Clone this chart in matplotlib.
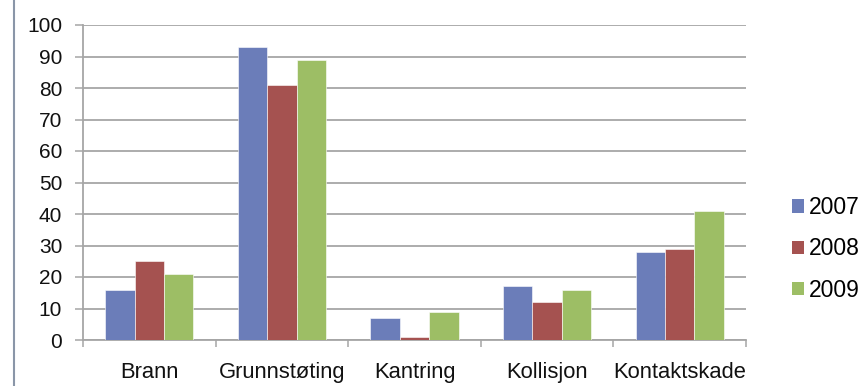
import matplotlib
matplotlib.use("Agg")
import matplotlib.pyplot as plt
import numpy as np
from matplotlib.lines import Line2D
from matplotlib.patches import Patch

categories = ["Brann", "Grunnstøting", "Kantring", "Kollisjon", "Kontaktskade"]
years = ["2007", "2008", "2009"]
v2007 = [16, 93, 7, 17, 28]
v2008 = [25, 81, 1, 12, 29]
v2009 = [21, 89, 9, 16, 41]
yticks = [0, 10, 20, 30, 40, 50, 60, 70, 80, 90, 100]

colors = ["#6B7DB9", "#A55250", "#9DBE65"]
grid_c = "#A6A6A6"
fs_y = 15
fs_x = 15.8
fs_leg = 16.5

plt.rcParams["font.family"] = ["Liberation Sans", "DejaVu Sans"]

fig = plt.figure(figsize=(8.64, 3.86), dpi=100)
ax = fig.add_axes([83 / 864, 46 / 386, 663 / 864, 315 / 386])

x = np.arange(len(categories))
w = 0.222
for i, (vals, c) in enumerate(zip([v2007, v2008, v2009], colors)):
    ax.bar(x + (i - 1) * w, vals, width=w, color=c, edgecolor="white",
           linewidth=0.4, zorder=3)

ax.set_xlim(-0.5, len(categories) - 0.5)
ax.set_ylim(0, 100)
ax.set_yticks(yticks)
ax.yaxis.grid(True, color=grid_c, linewidth=1.3, zorder=0)
ax.tick_params(axis="y", length=6, width=1.1, color=grid_c, pad=9,
               labelsize=fs_y, labelcolor="#111111")

ax.set_xticks(x)
ax.set_xticklabels(categories)
ax.tick_params(axis="x", which="major", length=0, pad=15.5, labelsize=fs_x,
               labelcolor="#111111")
ax.set_xticks(np.arange(-0.5, len(categories)), minor=True)
ax.tick_params(axis="x", which="minor", length=5, width=1.1, color=grid_c)

for side in ["top", "right"]:
    ax.spines[side].set_visible(False)
for side in ["left", "bottom"]:
    ax.spines[side].set_color(grid_c)
    ax.spines[side].set_linewidth(1.3)

handles = [Patch(facecolor=c, edgecolor="none") for c in colors]
fig.legend(handles, years, loc="center left",
           bbox_to_anchor=(792 / 864, 1 - 249 / 386), frameon=False,
           fontsize=fs_leg, handlelength=0.52, handleheight=0.52,
           handletextpad=0.22, labelspacing=0.8, borderpad=0,
           borderaxespad=0)

fig.add_artist(Line2D([14 / 864, 14 / 864], [0, 1], color="#8A96A8",
                      linewidth=1.5, transform=fig.transFigure))

fig.savefig("out.png", dpi=100)
